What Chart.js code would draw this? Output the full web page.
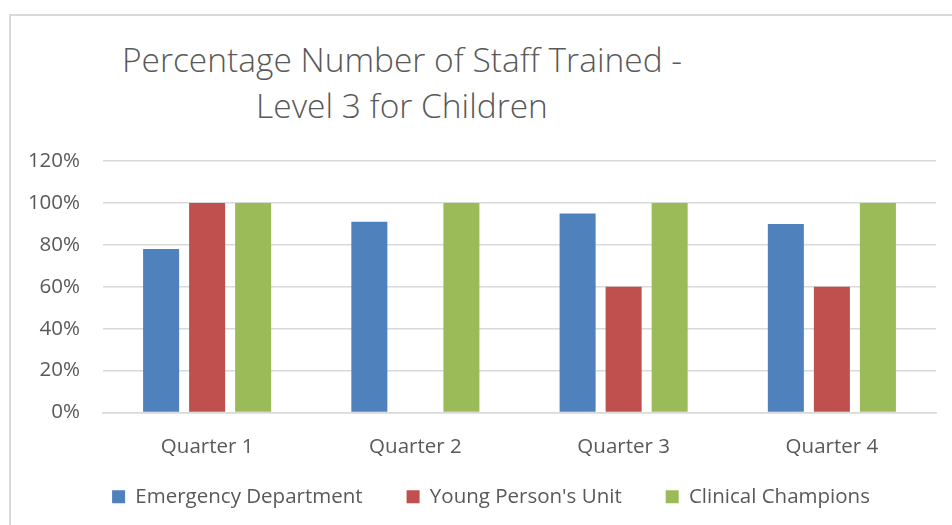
<!DOCTYPE html>
<html>
<head>
<meta charset="utf-8">
<script src="https://cdn.jsdelivr.net/npm/chart.js@4/dist/chart.umd.min.js"></script>
<style>
    body { margin: 0; background: #fff; overflow: hidden; width: 952px; height: 525px; position: relative; }
    #moldura { position: absolute; left: 9px; top: 14px; width: 980px; height: 560px; border: 2px solid #d9d9d9; box-sizing: border-box; }
    #titulo { position: absolute; left: 102px; top: 36px; width: 600px; text-align: center; font-family: 'Open Sans', sans-serif; font-weight: 300; font-size: 33.5px; line-height: 46px; color: #595959; }
    #grafico { position: absolute; left: 10px; top: 17px; }
</style>
</head>
<body>
<div id="moldura"></div>
<div id="titulo">Percentage Number of Staff Trained -<br>Level 3 for Children</div>
<canvas id="grafico" width="962" height="500"></canvas>
<script>
// categorias e valores (em %)
const trimestres = ['Quarter 1', 'Quarter 2', 'Quarter 3', 'Quarter 4']
const emergencia = [78, 91, 95, 90]
const jovens = [100, 0, 60, 60]
const campeoes = [100, 100, 100, 100]
const ticksY = [0, 20, 40, 60, 80, 100, 120]

const corTexto = '#595959'
const corGrade = '#d9d9d9'
const fonte = { family: 'Open Sans', size: 20.5 }

function plotarGrafico() {
    const data = {
        labels: trimestres,
        datasets: [{
            label: 'Emergency Department',
            data: emergencia,
            backgroundColor: '#4f81bd'
        }, {
            label: "Young Person's Unit",
            data: jovens,
            backgroundColor: '#c0504d'
        }, {
            label: 'Clinical Champions',
            data: campeoes,
            backgroundColor: '#9bbb59'
        }]
    };

    const config = {
        type: 'bar',
        data: data,
        options: {
            responsive: false,
            animation: false,
            devicePixelRatio: 1,
            datasets: {
                bar: {
                    categoryPercentage: 0.663,
                    barPercentage: 0.783
                }
            },
            layout: {
                padding: { top: 144, right: 0, left: 0, bottom: 0 }
            },
            plugins: {
                title: { display: false },
                tooltip: { enabled: false },
                legend: {
                    position: 'bottom',
                    labels: {
                        boxWidth: 13,
                        boxHeight: 13,
                        padding: 28,
                        color: corTexto,
                        font: fonte,
                        generateLabels: function (chart) {
                            const itens = Chart.defaults.plugins.legend.labels.generateLabels(chart)
                            // espaco extra entre os itens
                            for (let i = 0; i < itens.length - 1; i++) {
                                itens[i].text = itens[i].text + '   '
                            }
                            return itens
                        }
                    }
                }
            },
            scales: {
                x: {
                    grid: { display: false },
                    border: { display: true, color: corGrade, width: 1.5 },
                    ticks: {
                        color: corTexto,
                        padding: 14,
                        font: fonte
                    },
                    afterFit: function (escala) { escala.height = 46 }
                },
                y: {
                    min: 0,
                    max: 120,
                    afterBuildTicks: function (escala) {
                        escala.ticks = ticksY.map(function (v) { return { value: v } })
                    },
                    grid: { color: corGrade, lineWidth: 1.5, drawTicks: false },
                    border: { display: false },
                    ticks: {
                        color: corTexto,
                        padding: 23,
                        font: fonte,
                        callback: function (v) { return v + '%' }
                    },
                    afterFit: function (escala) { escala.width = 93 }
                },
                // margem direita (eixo vazio), para a legenda ficar centrada no quadro
                margem: {
                    position: 'right',
                    grid: { display: false },
                    border: { display: false },
                    ticks: { display: false },
                    afterFit: function (escala) { escala.width = 36 }
                }
            }
        }
    };
    const ctx = document.getElementById('grafico').getContext('2d');
    let Grafico = new Chart(ctx, config);
}
window.addEventListener('load', plotarGrafico)
</script>
</body>
</html>
